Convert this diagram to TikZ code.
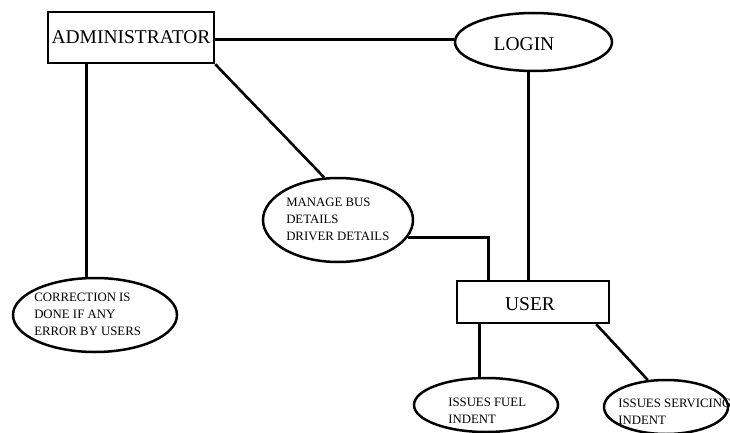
\documentclass[tikz,border=0pt]{standalone}
\usepackage{fontspec}
\setmainfont{Liberation Serif}
\usetikzlibrary{shapes.geometric}
\begin{document}
\begin{tikzpicture}[x=1pt,y=-1pt, line width=2.5pt,
  box/.style={draw, rectangle, inner sep=0pt},
  oval/.style={draw, ellipse, inner sep=0pt},
  big/.style={font=\fontsize{19.5}{22}\selectfont, inner sep=0pt},
  small/.style={font=\fontsize{12.8}{17}\selectfont, align=left, anchor=north west, inner sep=0pt},
  link/.style={draw, line width=2.6pt}]
\useasboundingbox (0,0) rectangle (730,433);
% entities
\node[box, big, minimum width=166pt, minimum height=51pt] (admin) at (131,37.5) {ADMINISTRATOR};
\node[box, minimum width=152pt, minimum height=42pt] (user) at (533,302) {};
\node[big] (usertext) at (530,304) {USER};
% ellipses
\node[oval, minimum width=157pt, minimum height=58pt] (login) at (533.5,42) {};
\node[big] (logintext) at (524,44) {LOGIN};
\node[oval, minimum width=150pt, minimum height=84pt] (manage) at (338,220) {};
\node[small] (managetext) at (285,197) {MANAGE BUS\\DETAILS\\DRIVER DETAILS};
\node[oval, minimum width=164pt, minimum height=74pt] (corr) at (95,315) {};
\node[small] (corrtext) at (33,292) {CORRECTION IS\\DONE IF ANY\\ERROR BY USERS};
\node[oval, minimum width=144pt, minimum height=54pt] (fuel) at (486,405) {};
\node[small] (fueltext) at (447,397) {ISSUES FUEL\\INDENT};
\node[oval, minimum width=124pt, minimum height=54pt] (serv) at (666,407) {};
\node[small] (servtext) at (617,398) {ISSUES SERVICING\\INDENT};
% connectors
\draw[link] ([yshift=-2pt]admin.east) -- ([yshift=-2pt]admin.east -| login.west);
\draw[link] (admin.south east) -- (manage.108);
\draw[link] ([xshift=40pt]admin.south west) -- ([xshift=40pt]admin.south west |- corr.north);
\draw[link] ([xshift=-5pt]login.south) -- ([xshift=-5pt]login.south |- user.north);
\draw[link] (manage.-14) -| ([xshift=33pt]user.north west);
\draw[link] ([xshift=24pt]user.south west) -- ([xshift=24pt]user.south west |- fuel.north);
\draw[link] ([xshift=-14pt]user.south east) -- (serv.124);
\end{tikzpicture}
\end{document}
